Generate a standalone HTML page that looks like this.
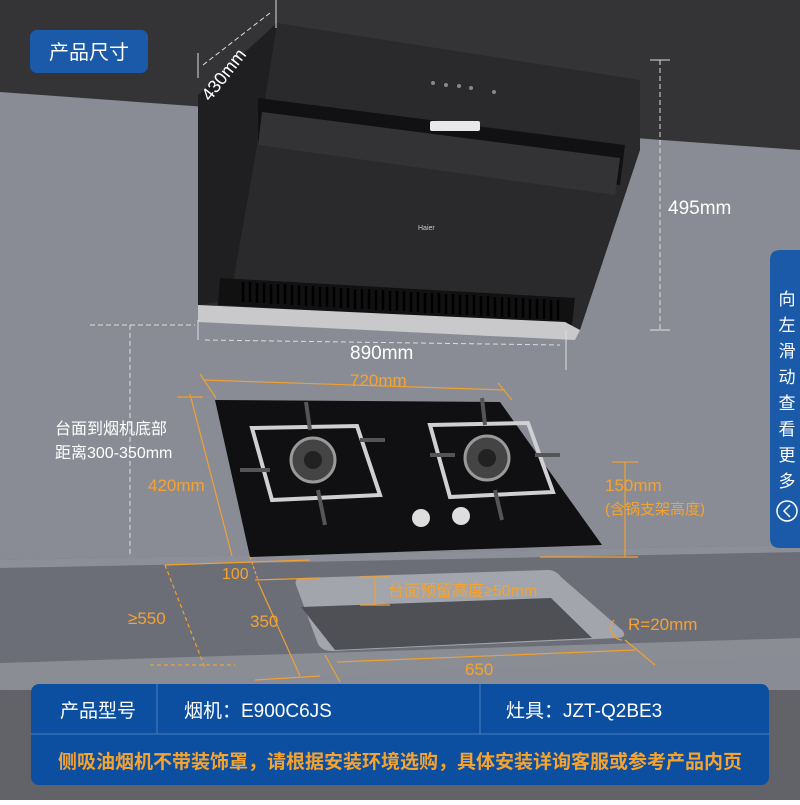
<!DOCTYPE html>
<html><head><meta charset="utf-8"><style>
body{margin:0;width:800px;height:800px;overflow:hidden;font-family:"Liberation Sans","Noto Sans CJK SC",sans-serif;}
svg text{font-family:"Liberation Sans","Noto Sans CJK SC",sans-serif;}
</style></head><body>
<svg width="800" height="800" viewBox="0 0 800 800" xmlns="http://www.w3.org/2000/svg">
<rect width="800" height="800" fill="#8a8c95"/>
<polygon points="0,0 800,0 800,150 0,92" fill="#343436"/>
<!-- counter -->
<polygon points="0,560 800,545 800,650 0,690" fill="#6c6e77"/>
<polygon points="0,560 800,545 800,552 0,568" fill="#8d8f98"/>
<rect x="0" y="690" width="800" height="110" fill="#626369"/>
<polygon points="0,663 800,638 800,655 0,690" fill="#8b8d95"/>
<!-- sink -->
<path d="M296,585 Q294,578 302,578 L548,570 Q556,570 561,577 L622,630 Q628,637 618,638 L332,651 Q322,651 318,644 Z" fill="#a3a5ad"/>
<path d="M301,607 L551,598 L592,638 L335,650 Z" fill="#4f5056"/>
<!-- hood -->
<polygon points="277,23 640,80 640,150 580,330 198,313 198,95" fill="#2a2a2c"/>
<polygon points="198,95 277,23 265,100 230,300 198,305" fill="#1f1f21"/>
<polygon points="258,98 625,145 620,185 258,145" fill="#111113"/>
<polygon points="262,112 620,158 615,195 258,145" fill="#333336"/>
<rect x="430" y="121" width="50" height="10" fill="#e8e8ea" rx="2"/>
<polygon points="220,278 575,298 572,325 218,305" fill="#111"/>
<g stroke="#000" stroke-width="2.5">
<path d="M243,282v20M250,282v20M257,283v20M264,283v20M271,284v20M278,284v20M285,284v20M292,285v20M299,285v20M306,286v20M313,286v20M320,287v20M327,287v20M334,287v20M341,288v20M348,288v20M355,289v20M362,289v20M369,289v20M376,290v20M383,290v20M390,291v20M397,291v20M404,291v20M411,292v20M418,292v20M425,293v20M432,293v20M439,293v20M446,294v20M453,294v20M460,295v20M467,295v20M474,295v20M481,296v20M488,296v20M495,297v20M502,297v20M509,297v20M516,298v20M523,298v20M530,299v20M537,299v20M544,299v20M551,300v20M558,300v20"/>
</g>
<polygon points="198,305 565,322 580,330 575,340 198,322" fill="#c9c9cc"/>
<text x="418" y="230" fill="#ccc" font-size="7">Haier</text>
<g fill="#888"><circle cx="433" cy="83" r="2"/><circle cx="446" cy="85" r="2"/><circle cx="459" cy="86" r="2"/><circle cx="471" cy="88" r="2"/><circle cx="494" cy="92" r="2"/></g>
<!-- hob -->
<polygon points="215,400 500,402 602,545 250,557" fill="#101012"/>
<g fill="none" stroke="#d0d0d3" stroke-width="4">
<polygon points="252,428 357,426 380,495 272,500"/>
<polygon points="430,425 528,423 553,492 450,497"/>
</g>
<g stroke="#555" stroke-width="4">
<path d="M306,402 L310,430 M318,490 L325,525 M240,470 L270,470 M360,440 L385,440 M482,398 L485,425 M495,490 L502,520 M430,455 L455,455 M535,455 L560,455"/>
</g>
<circle cx="313" cy="460" r="22" fill="#444" stroke="#999" stroke-width="3"/>
<circle cx="487" cy="458" r="22" fill="#444" stroke="#999" stroke-width="3"/>
<circle cx="313" cy="460" r="9" fill="#222"/><circle cx="487" cy="458" r="9" fill="#222"/>
<circle cx="421" cy="518" r="9" fill="#ddd"/><circle cx="461" cy="516" r="9" fill="#ddd"/>
<!-- dimension lines -->
<g stroke="#f0a030" stroke-width="1.2" fill="none">
<path d="M203,380 L505,390 M200,374 L216,398 M498,383 L512,400"/>
<path d="M190,394 L232,556 M177,397 L203,397"/>
<path d="M625,462 L625,557 M612,462 L638,462 M540,557 L638,557"/>
<path d="M165,565 L310,560 M255,580 L320,578 M255,680 L320,676 M258,582 L300,676"/>
<path d="M165,565 L205,668 M150,665 L235,665" stroke-dasharray="4,3"/>
<path d="M250,557 L258,580" stroke-dasharray="3,2"/>
<path d="M375,577 L375,605 M360,577 L390,577 M360,605 L390,605"/>
<path d="M337,662 L635,650 M325,655 L340,682 M625,640 L655,665"/>
<path d="M614,620 A12,12 0 0 0 622,640"/>
</g>
<g stroke="#ddd" stroke-width="1" fill="none">
<path d="M276,0 L276,28 M198,320 L198,340 M566,330 L566,370 M198,53 L198,78" />
<path d="M205,340 L560,345 M660,60 L660,330 M90,325 L195,325 M130,325 L130,555" stroke-dasharray="5,3"/>
<path d="M203,65 L270,13" stroke-dasharray="5,3"/>
<path d="M650,60 L670,60 M650,330 L670,330"/>
</g>
<!-- texts -->
<g fill="#fff" font-size="19">
<text x="350" y="359">890mm</text>
<text x="668" y="214">495mm</text>
<text x="0" y="0" transform="translate(210,102) rotate(-52)" font-size="18">430mm</text>
<text x="55" y="434" font-size="16">台面到烟机底部</text>
<text x="55" y="458" font-size="16">距离300-350mm</text>
</g>
<g fill="#f5a330" font-size="17">
<text x="350" y="386">720mm</text>
<text x="148" y="491">420mm</text>
<text x="605" y="491">150mm</text>
<text x="605" y="514" font-size="15">(含锅支架高度)</text>
<text x="222" y="579" font-size="16">100</text>
<text x="128" y="624">≥550</text>
<text x="250" y="627">350</text>
<text x="388" y="596" font-size="16">台面预留高度≥50mm</text>
<text x="628" y="630">R=20mm</text>
<text x="465" y="675">650</text>
</g>
<!-- top-left button -->
<rect x="30" y="30" width="118" height="43" rx="7" fill="#1b5aa9"/>
<text x="89" y="59" fill="#fff" font-size="20" text-anchor="middle">产品尺寸</text>
<!-- right tab -->
<path d="M800,250 L780,250 Q770,250 770,260 L770,538 Q770,548 780,548 L800,548 Z" fill="#1b5aa9"/>
<g fill="#fff" font-size="17" text-anchor="middle">
<text x="787" y="305">向</text><text x="787" y="331">左</text><text x="787" y="357">滑</text><text x="787" y="383">动</text><text x="787" y="409">查</text><text x="787" y="435">看</text><text x="787" y="461">更</text><text x="787" y="487">多</text>
</g>
<circle cx="787" cy="511" r="10" fill="none" stroke="#fff" stroke-width="1.5"/>
<path d="M790,505 L784,511 L790,517" fill="none" stroke="#fff" stroke-width="1.5"/>
<!-- bottom panel -->
<rect x="31" y="684" width="738" height="101" rx="8" fill="#0c4fa1"/>
<g stroke="#4a7fc0" stroke-width="1"><path d="M31,734 H769 M157,684 V734 M480,684 V734"/></g>
<g fill="#fff" font-size="19">
<text x="60" y="717">产品型号</text>
<text x="184" y="717">烟机：E900C6JS</text>
<text x="506" y="717">灶具：JZT-Q2BE3</text>
</g>
<text x="400" y="768" fill="#f5a330" font-size="19" font-weight="bold" text-anchor="middle">侧吸油烟机不带装饰罩，请根据安装环境选购，具体安装详询客服或参考产品内页</text>
</svg>
</body></html>
